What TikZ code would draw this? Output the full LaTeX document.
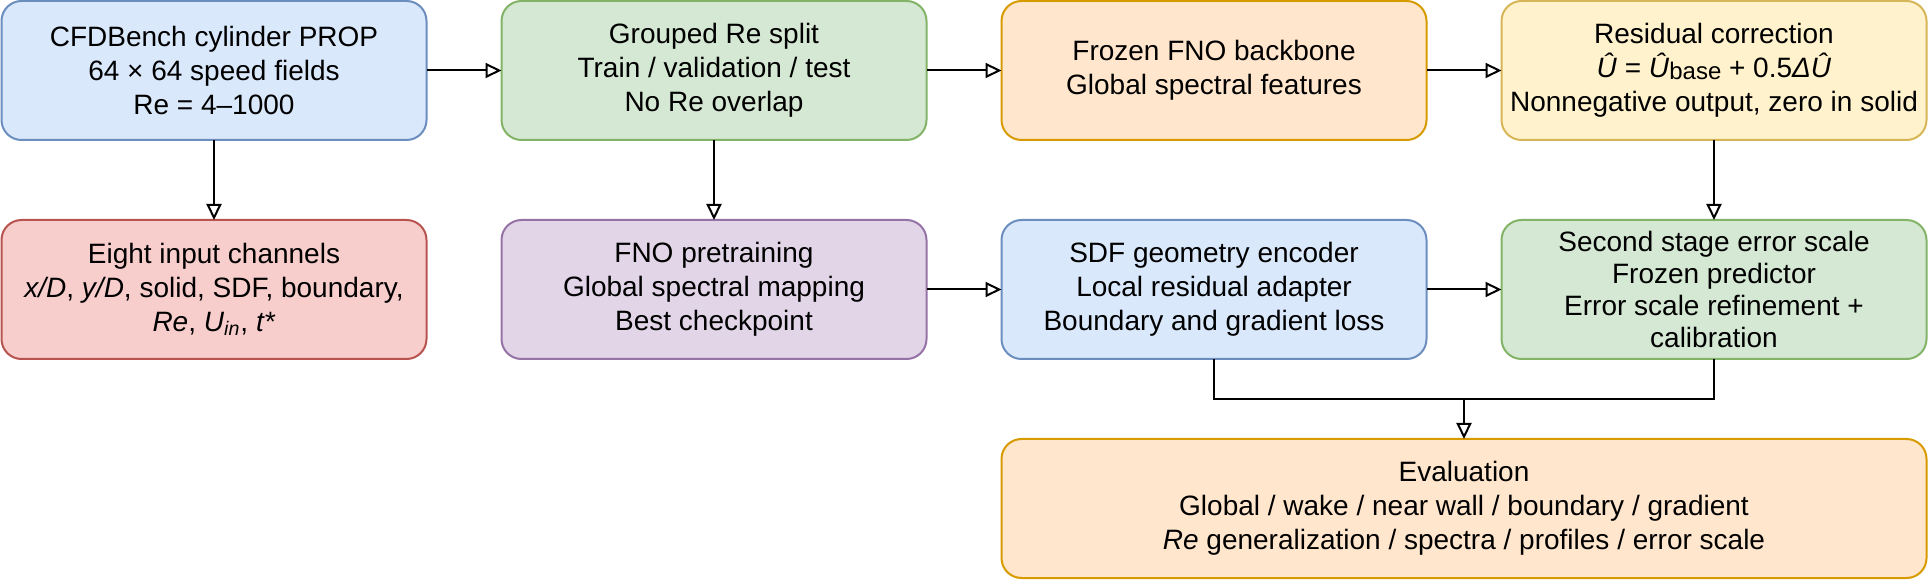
\documentclass[tikz,border=0pt]{standalone}
\usepackage{fontspec}
\setmainfont{Liberation Sans}
\usetikzlibrary{arrows.meta,positioning}

\definecolor{blueFill}{HTML}{DAE8FC}
\definecolor{blueLine}{HTML}{6C8EBF}
\definecolor{greenFill}{HTML}{D5E8D4}
\definecolor{greenLine}{HTML}{82B366}
\definecolor{orangeFill}{HTML}{FFE6CC}
\definecolor{orangeLine}{HTML}{D79B00}
\definecolor{yellowFill}{HTML}{FFF2CC}
\definecolor{yellowLine}{HTML}{D6B656}
\definecolor{redFill}{HTML}{F8CECC}
\definecolor{redLine}{HTML}{B85450}
\definecolor{purpleFill}{HTML}{E1D5E7}
\definecolor{purpleLine}{HTML}{9673A6}

\tikzset{
  box/.style={rectangle,rounded corners=10pt,draw,line width=1pt,
    minimum width=212.5pt,minimum height=69.5pt,inner sep=2pt,outer sep=0pt,
    align=center,font=\fontsize{14}{17}\selectfont},
  bluebox/.style={box,fill=blueFill,draw=blueLine},
  greenbox/.style={box,fill=greenFill,draw=greenLine},
  orangebox/.style={box,fill=orangeFill,draw=orangeLine},
  yellowbox/.style={box,fill=yellowFill,draw=yellowLine},
  redbox/.style={box,fill=redFill,draw=redLine},
  purplebox/.style={box,fill=purpleFill,draw=purpleLine}
}

\begin{document}
\begin{tikzpicture}
    [->,>={Triangle[open,length=8pt,width=7.5pt]},line width=1pt,node distance=40pt and 37.5pt]

    \useasboundingbox (0,0) rectangle (964pt,-291pt);

    % first row
    \node (data) [bluebox] at (107pt,-35.25pt)
        {CFDBench cylinder PROP\\64 × 64 speed fields\\Re = 4–1000};
    \node (split) [greenbox,right=of data]
        {Grouped Re split\\Train / validation / test\\No Re overlap};
    \node (backbone) [orangebox,right=of split]
        {Frozen FNO backbone\\Global spectral features};
    \node (residual) [yellowbox,right=of backbone]
        {Residual correction\\\textit{Û} = \textit{Û}\raisebox{-1pt}{\fontsize{12}{12}\selectfont base} + 0.5\textit{ΔÛ}\\Nonnegative output, zero in solid};

    % second row
    \node (channels) [redbox,below=of data]
        {Eight input channels\\\textit{x/D}, \textit{y/D}, solid, SDF, boundary,\\\textit{Re}, \textit{U}\textsubscript{\textit{in}}, \textit{t*}};
    \node (pretrain) [purplebox,below=of split]
        {FNO pretraining\\Global spectral mapping\\Best checkpoint};
    \node (encoder) [bluebox,below=of backbone]
        {SDF geometry encoder\\Local residual adapter\\Boundary and gradient loss};
    \node (errscale) [greenbox,below=of residual,font=\fontsize{14}{16}\selectfont]
        {Second stage error scale\\Frozen predictor\\Error scale refinement +\\calibration};

    % third row
    \node (eval) [orangebox,minimum width=462.5pt,below right=40pt and 0pt of encoder.south west]
        {Evaluation\\Global / wake / near wall / boundary / gradient\\\textit{Re} generalization / spectra / profiles / error scale};

    \path (data) edge (split);
    \path (split) edge (backbone);
    \path (backbone) edge (residual);
    \path (data) edge (channels);
    \path (split) edge (pretrain);
    \path (residual) edge (errscale);
    \path (pretrain) edge (encoder);
    \path (encoder) edge (errscale);

    \coordinate (join) at ([yshift=20pt]eval.north);
    \draw[-] (encoder.south) |- (join) -| (errscale.south);
    \path (join) edge (eval.north);
\end{tikzpicture}
\end{document}
